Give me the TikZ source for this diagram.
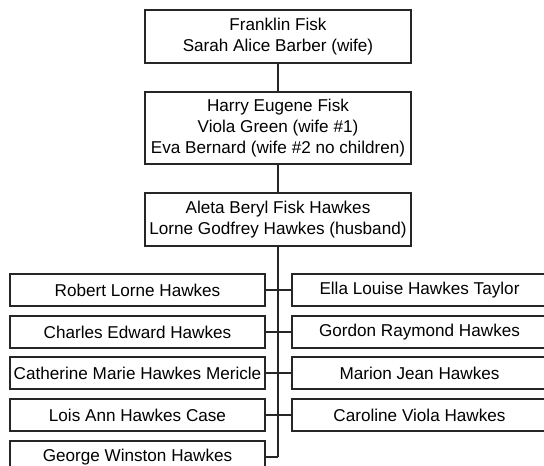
\documentclass[tikz,border=0pt]{standalone}
\usepackage{fontspec}
\setmainfont{Liberation Sans}
\begin{document}
\begin{tikzpicture}[x=0.75pt,y=-0.75pt,
  box/.style={draw=black!85,line width=0.85pt,rectangle,inner sep=0pt,align=center,
    font=\fontsize{12.85pt}{15.8pt}\selectfont},
  topbox/.style={box,minimum width=199.5pt},
  kid/.style={box,minimum width=191.25pt,minimum height=24pt},
  link/.style={draw=black!85,line width=0.85pt}]
\useasboundingbox (0,0) rectangle (544,466);
\node[topbox,minimum height=39.75pt] (b1) at (278,36.5) {Franklin Fisk\\Sarah Alice Barber (wife)};
\node[topbox,minimum height=54pt] (b2) at (278,128) {Harry Eugene Fisk\\Viola Green (wife \#1)\\Eva Bernard (wife \#2 no children)};
\node[topbox,minimum height=39.75pt] (b3) at (278,219.5) {Aleta Beryl Fisk Hawkes\\Lorne Godfrey Hawkes (husband)};
\node[kid] (l1) at (137.5,290) {Robert Lorne Hawkes};
\node[kid] (l2) at (137.5,332) {Charles Edward Hawkes};
\node[kid] (l3) at (137.5,373) {Catherine Marie Hawkes Mericle};
\node[kid] (l4) at (137.5,415) {Lois Ann Hawkes Case};
\node[kid] (l5) at (137.5,457) {George Winston Hawkes};
\node[kid] (r1) at (419.5,290) {Ella Louise Hawkes Taylor};
\node[kid] (r2) at (419.5,332) {Gordon Raymond Hawkes};
\node[kid] (r3) at (419.5,373) {Marion Jean Hawkes};
\node[kid] (r4) at (419.5,415) {Caroline Viola Hawkes};
\coordinate (end) at (278,457);
\path[link] (b1.south) -- (b2.north);
\path[link] (b2.south) -- (b3.north);
\path[link] (b3.south) -- (end);
\path[link] (l1.east) -- (r1.west);
\path[link] (l2.east) -- (r2.west);
\path[link] (l3.east) -- (r3.west);
\path[link] (l4.east) -- (r4.west);
\path[link] (l5.east) -- (end);
\end{tikzpicture}
\end{document}
